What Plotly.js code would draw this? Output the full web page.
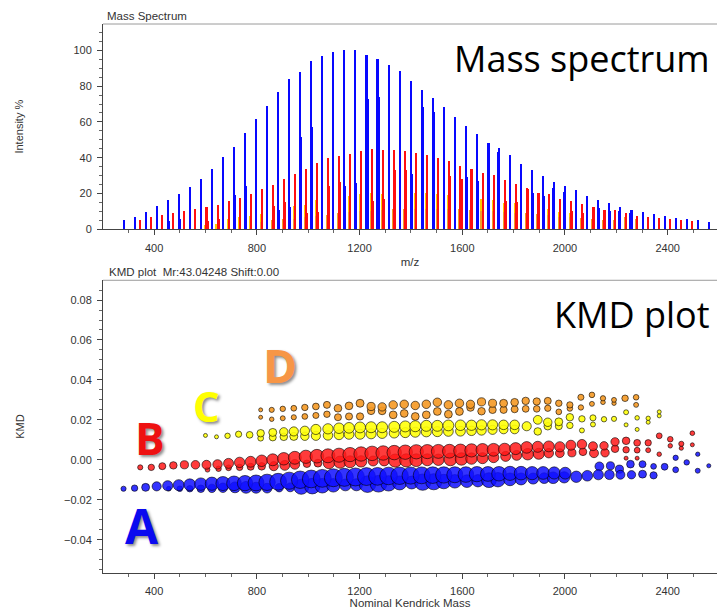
<!DOCTYPE html>
<html>
<head>
<meta charset="utf-8">
<script src="https://cdn.plot.ly/plotly-3.0.1.min.js"></script>
<style>html,body{margin:0;padding:0;background:#fff;}#chart{width:717px;height:609px;}</style>
</head>
<body>
<div id="chart"></div>
<script>
// ---------- Series A (blue) ----------
const mzA = [281,324,367,410,453,496,539,582,625,668,711,754,797,840,883,926,969,1012,1055,1098,1141,1184,1227,1270,1313,1356,1399,1442,1485,1528,1571,1614,1657,1700,1743,1786,1829,1872,1915,1958,2001,2044,2087,2130,2173,2216,2259,2302,2345,2388,2431,2474,2517,2560];
const intA = [5.2,6.9,9.9,13.0,16.4,19.9,23.8,28.1,33.7,40.4,46.2,54.0,61.6,68.9,76.7,83.8,88.1,93.9,96.8,98.9,100,100,97.3,95.4,92.0,88.4,82.8,77.6,73.1,68.2,63.0,57.7,53.3,48.1,45.3,41.3,36.5,33.4,29.9,26.4,24.2,21.7,18.4,16.3,14.7,12.3,10.8,9.8,8.4,7.6,6.1,5.6,5.0,4.1];
const kmdA = [-0.0145,-0.0142,-0.0138,-0.0133,-0.0130,-0.0127,-0.0125,-0.0122,-0.0120,-0.0119,-0.0118,-0.0117,-0.0116,-0.0113,-0.0110,-0.0105,-0.0100,-0.0096,-0.0093,-0.0090,-0.0088,-0.0086,-0.0084,-0.0083,-0.0081,-0.0080,-0.0079,-0.0078,-0.0077,-0.0076,-0.0075,-0.0074,-0.0072,-0.0071,-0.0070,-0.0068,-0.0067,-0.0067,-0.0066,-0.0066,-0.0067,-0.0085,-0.0080,-0.0075,-0.0075,-0.0075,-0.0075,-0.0072,-0.0078,-0.0035,-0.0050,-0.0013,-0.0055,-0.0030];
const mzA2 = [457,500,539,582,625,668,715,758,797,840,887,930,973,1016,1055,1098,1145,1188,1231,1274,1313,1356,1403,1446,1489,1528,1571,1618,1661,1704,1739,1786,1829,1876,1919,1954,1997,2134,2177,2212,2255,2302,2345,2431,2517];
const intA2 = [4.7,5.8,7,9,11,14,19.4,24.2,20,15,10.8,12.3,51.6,57,45,35,24,25.7,72.8,74,55,40,30.9,68.2,65.5,45,35,29,27,48,43,30,25,20.3,18.6,23.3,21,12.1,10.2,10.4,9.3,8,6,5.4,4.3];
const kmdA2 = [-0.0145,-0.0145,-0.0145,-0.0145,-0.0143,-0.0140,-0.0138,-0.0138,-0.0140,-0.0142,-0.0140,-0.0138,-0.0135,-0.0132,-0.0130,-0.0128,-0.0126,-0.0125,-0.0122,-0.0120,-0.0118,-0.0116,-0.0114,-0.0112,-0.0110,-0.0109,-0.0108,-0.0107,-0.0105,-0.0102,-0.0100,-0.0098,-0.0096,-0.0094,-0.0092,-0.0090,-0.0088,-0.0033,-0.0030,-0.0047,-0.0022,-0.0022,-0.0033,0.0010,0.0028];

// ---------- Series B (red) ----------
const mzB = [346,389,432,475,518,561,604,647,690,733,776,819,862,905,948,991,1034,1077,1120,1163,1206,1249,1292,1335,1378,1421,1464,1507,1550,1593,1636,1679,1722,1765,1808,1851,1894,1937,1980,2023,2066,2109,2152,2195,2238,2281,2324,2367,2410,2453,2496];
const intB = [5.2,6.9,8.0,8.9,10.4,11.4,12.5,13.8,15.8,17.3,19.6,22.5,24.8,28.1,30.9,33.5,36.9,39.7,41.0,42.2,43.5,44.9,44.3,44.2,43.5,42.5,41.3,39.6,38.1,35.6,33.7,31.6,30.4,27.4,25.1,23.1,20.3,19.6,16.9,15.8,14.2,12.5,11.0,10.8,9.1,7.6,6.9,6.1,5.8,5.2,4.7];
const kmdB = [-0.0038,-0.0038,-0.0032,-0.0028,-0.0025,-0.0025,-0.0025,-0.0023,-0.0018,-0.0013,-0.0010,-0.0005,0.0000,0.0005,0.0010,0.0015,0.0018,0.0020,0.0023,0.0026,0.0029,0.0032,0.0034,0.0036,0.0038,0.0040,0.0041,0.0042,0.0043,0.0045,0.0047,0.0049,0.0050,0.0052,0.0056,0.0062,0.0065,0.0067,0.0065,0.0073,0.0078,0.0068,0.0070,0.0090,0.0095,0.0085,0.0085,0.0120,0.0103,0.0080,0.0133];
const mzB2 = [608,651,690,733,776,819,866,909,948,995,1038,1081,1124,1163,1206,1253,1296,1339,1382,1421,1464,1507,1554,1597,1636,1679,1722,1769,1812,1855,1898,1937,1980,2027,2070,2113,2156,2195,2238,2238,2281,2281,2324,2367,2410,2453,2496];
const intB2 = [4.7,5.6,6,7,8,9,13,15.5,15,8.9,9.7,24.4,26.3,25,22,15.8,16.8,33,33,30,25,22,30,28,22,20,18,15.8,15.5,22.5,20.3,14,12,10.4,9.3,12.5,11,9,7,4,6,4,5,4.5,4.5,4.2,4.0];
const kmdB2 = [-0.0050,-0.0045,-0.0040,-0.0038,-0.0035,-0.0033,-0.0032,-0.0028,-0.0023,-0.0020,-0.0017,-0.0015,-0.0012,-0.0010,-0.0008,-0.0006,-0.0005,-0.0004,-0.0003,-0.0002,0.0000,0.0000,0.0002,0.0004,0.0006,0.0008,0.0012,0.0017,0.0022,0.0028,0.0030,0.0033,0.0033,0.0035,0.0040,0.0033,0.0035,0.0055,0.0050,0.0008,0.0048,0.0008,0.0048,0.0028,0.0070,0.0058,0.0075];

// ---------- Series C (yellow) ----------
const mzC = [600,643,686,729,772,815,862,905,944,987,1030,1077,1120,1159,1202,1245,1288,1335,1378,1417,1460,1503,1546,1593,1636,1675,1718,1761,1804,1851,1894,1933,1976,2019,2066,2109,2152,2191,2238,2281,2324,2367];
const intC = [2.5,3.2,5.6,6.7,7.4,8.8,10,11,13,13.8,16.4,17,18,18.6,19.6,20.1,19.9,20,20,20.1,20.1,19.7,19.2,18,17,16.8,16.4,14.5,14.5,13,12,11.2,9.9,8.9,7,6.5,5.5,5.2,5,4.5,4.3,4];
const kmdC = [0.0122,0.0115,0.0120,0.0128,0.0125,0.0133,0.0137,0.0140,0.0142,0.0145,0.0152,0.0155,0.0158,0.0160,0.0162,0.0163,0.0163,0.0165,0.0167,0.0168,0.0170,0.0170,0.0172,0.0173,0.0173,0.0175,0.0175,0.0175,0.0175,0.0168,0.0200,0.0188,0.0190,0.0213,0.0205,0.0210,0.0203,0.0205,0.0238,0.0210,0.0208,0.0240];
const mzC2 = [815,862,905,944,987,1030,1077,1120,1159,1202,1245,1288,1335,1378,1417,1460,1503,1546,1593,1636,1675,1718,1761,1804,1894,1933,1976,2019,2066,2109,2238,2281,2324,2367];
const intC2 = [6,8,9,10,11,13,14,15,15,16,16,16,16,16,16,16,16,15,15,14,14,13,12,12,9,9,8,7,5,5,4,4,3.5,3.5];
const kmdC2 = [0.0108,0.0112,0.0115,0.0117,0.0118,0.0120,0.0122,0.0125,0.0127,0.0128,0.0130,0.0132,0.0134,0.0136,0.0138,0.0140,0.0141,0.0142,0.0143,0.0145,0.0147,0.0150,0.0152,0.0152,0.0142,0.0168,0.0168,0.0172,0.0147,0.0177,0.0175,0.0152,0.0188,0.0220];

// ---------- Series D (orange) ----------
const mzD = [815,858,901,944,987,1030,1073,1116,1159,1202,1245,1288,1331,1374,1417,1460,1503,1546,1589,1632,1675,1718,1761,1804,1847,1890,1933,1976,2019,2062,2105,2148,2191,2234,2277];
const intD = [4.0,5.2,5.6,6.0,7.0,7.5,8.0,9.3,9.5,10.0,10.5,11.0,11.2,11.2,11.2,11.3,11.3,11.4,11.4,10.8,10.5,10.2,9.8,9.3,8.9,8.6,8.0,7.1,6.8,6.5,5.8,5.4,5.0,7.1,5.8];
const kmdD = [0.0250,0.0250,0.0255,0.0258,0.0262,0.0267,0.0275,0.0258,0.0270,0.0283,0.0267,0.0265,0.0275,0.0278,0.0272,0.0278,0.0288,0.0275,0.0283,0.0278,0.0290,0.0283,0.0283,0.0288,0.0295,0.0292,0.0295,0.0283,0.0275,0.0313,0.0325,0.0308,0.0300,0.0308,0.0313];
const mzD2 = [815,858,901,944,987,1030,1073,1116,1159,1202,1245,1288,1331,1374,1417,1460,1503,1546,1589,1632,1675,1718,1761,1804,1847,1890,1933,1976,2019,2062,2105,2148,2191,2277];
const intD2 = [3.5,4.5,5.0,5.2,6.0,6.5,7.0,8.0,8.2,8.5,9.0,9.5,9.5,9.5,9.5,9.6,9.6,9.7,9.7,9.2,9.0,8.7,8.3,8.0,7.6,7.3,6.8,6.0,5.8,5.5,5.0,4.6,4.3,5.0];
const kmdD2 = [0.0213,0.0203,0.0208,0.0213,0.0217,0.0222,0.0228,0.0213,0.0217,0.0217,0.0245,0.0245,0.0225,0.0232,0.0217,0.0225,0.0242,0.0228,0.0242,0.0262,0.0243,0.0250,0.0250,0.0253,0.0255,0.0255,0.0258,0.0240,0.0257,0.0262,0.0280,0.0288,0.0283,0.0275];

// ---------- Axis tick steps ----------
const xTickStep = 400, xMinorStep = 100;
const yTickStep = 20, yMinorStep = 5;
const kTickStep = 0.02, kMinorStep = 0.005;

const COL = {
  blueBar:'#0808ff', redBar:'#ff0f0f', yellowBar:'#ffcc00', orangeBar:'#f0a028',
  blue:'rgba(15,15,255,0.85)', red:'rgba(255,25,25,0.85)', yellow:'rgba(255,255,10,0.9)', orange:'rgba(245,155,40,0.92)'
};

function bars(x, y, color){
  return {type:'bar', x:x, y:y, width:8, marker:{color:color, line:{width:0}}, xaxis:'x', yaxis:'y', showlegend:false, hoverinfo:'x+y'};
}
function sizes(arr){ return arr.map(v => Math.max(4, 4.34*Math.log(v) - 2)); }
function dots(x, y, inten, color){
  return {type:'scatter', mode:'markers', x:x, y:y, xaxis:'x2', yaxis:'y2', showlegend:false, hoverinfo:'x+y',
    marker:{size:sizes(inten), opacity:1, color:color, line:{color:'rgba(0,0,0,0.6)', width:1}}};
}

const data = [
  bars(mzC2, intC2, COL.yellowBar), bars(mzC, intC, COL.yellowBar),
  bars(mzD2, intD2, COL.orangeBar), bars(mzD, intD, COL.orangeBar),
  bars(mzB2, intB2, COL.redBar), bars(mzB, intB, COL.redBar),
  bars(mzA2, intA2, COL.blueBar), bars(mzA, intA, COL.blueBar),
  dots(mzD2, kmdD2, intD2, COL.orange), dots(mzD, kmdD, intD, COL.orange),
  dots(mzC2, kmdC2, intC2, COL.yellow), dots(mzC, kmdC, intC, COL.yellow),
  dots(mzB2, kmdB2, intB2, COL.red), dots(mzB, kmdB, intB, COL.red),
  dots(mzA2, kmdA2, intA2, COL.blue), dots(mzA, kmdA, intA, COL.blue)
];

const axBase = {
  ticks:'outside', ticklen:5, tickwidth:1, tickcolor:'#444', showline:true, linecolor:'#444', linewidth:1,
  showgrid:false, zeroline:false, tickfont:{size:11, color:'#333'}, ticklabelstandoff:3
};
const letter = (t, x, y, size, color) => ({text:t, xref:'paper', yref:'paper', x:x, y:y, xanchor:'center', yanchor:'middle', showarrow:false,
  font:{family:'Open Sans', size:size, weight:700, color:color, shadow:'2px 2px 3px rgba(0,0,0,0.45)'}});

const layout = {
  width:717, height:609,
  margin:{l:103, r:0, t:24, b:36, pad:0},
  paper_bgcolor:'#fff', plot_bgcolor:'#fff',
  barmode:'overlay', bargap:0,
  font:{family:'Liberation Sans, Arial, sans-serif', size:11, color:'#333'},
  title:{text:'Mass Spectrum', xref:'paper', x:0.0065, xanchor:'left', yref:'container', y:0.9737, yanchor:'middle', font:{size:11.5, color:'#333'}},
  xaxis: Object.assign({}, axBase, {domain:[0,1], anchor:'y', range:[201,2592], tickmode:'linear', tick0:0, dtick:xTickStep,
    minor:{tick0:0, dtick:xMinorStep, ticks:'outside', ticklen:3, tickcolor:'#666', showgrid:false},
    title:{text:'m/z', font:{size:11.5}, standoff:5}}),
  yaxis: Object.assign({}, axBase, {domain:[0.626,1], anchor:'x', range:[0,114.7], tickmode:'linear', tick0:0, dtick:yTickStep,
    minor:{tick0:0, dtick:yMinorStep, ticks:'outside', ticklen:3, tickcolor:'#666', showgrid:false},
    title:{text:'Intensity %', font:{size:11}, standoff:47}}),
  xaxis2: Object.assign({}, axBase, {domain:[0,1], anchor:'y2', range:[201,2592], tickmode:'linear', tick0:0, dtick:xTickStep,
    minor:{tick0:0, dtick:xMinorStep, ticks:'outside', ticklen:3, tickcolor:'#666', showgrid:false},
    title:{text:'Nominal Kendrick Mass', font:{size:11.5}, standoff:4}}),
  yaxis2: Object.assign({}, axBase, {domain:[0,0.5332], anchor:'x2', range:[-0.0567,0.0899], tickmode:'linear', tick0:0, dtick:kTickStep, tickformat:'.2f',
    minor:{tick0:0, dtick:kMinorStep, ticks:'outside', ticklen:3, tickcolor:'#666', showgrid:false},
    title:{text:'KMD', font:{size:11}, standoff:37}}),
  shapes:[
    {type:'line', xref:'paper', yref:'paper', x0:0, x1:1, y0:1, y1:1, line:{color:'#9a9a9a', width:1}},
    {type:'line', xref:'paper', yref:'paper', x0:0, x1:1, y0:0.5332, y1:0.5332, line:{color:'#9a9a9a', width:1}}
  ],
  annotations:[
    {text:'KMD plot  Mr:43.04248 Shift:0.00', xref:'paper', yref:'paper', x:0.0065, y:0.5483, xanchor:'left', yanchor:'middle', showarrow:false, font:{size:11.5, color:'#333'}},
    {text:'Mass spectrum', xref:'paper', yref:'paper', x:0.9919, y:0.9368, xanchor:'right', yanchor:'middle', showarrow:false, font:{family:'Open Sans', size:36, color:'#000'}},
    {text:'KMD plot', xref:'paper', yref:'paper', x:0.9919, y:0.47, xanchor:'right', yanchor:'middle', showarrow:false, font:{family:'Open Sans', size:36, color:'#000'}},
    letter('A', 0.0635, 0.0874, 48, '#0a0af0'),
    letter('B', 0.0765, 0.2468, 44, '#ee1111'),
    letter('C', 0.1678, 0.306, 42, '#ffff00'),
    letter('D', 0.2883, 0.3789, 46, '#f79646')
  ]
};

Plotly.newPlot('chart', data, layout, {staticPlot:true, displayModeBar:false});
</script>
</body>
</html>
